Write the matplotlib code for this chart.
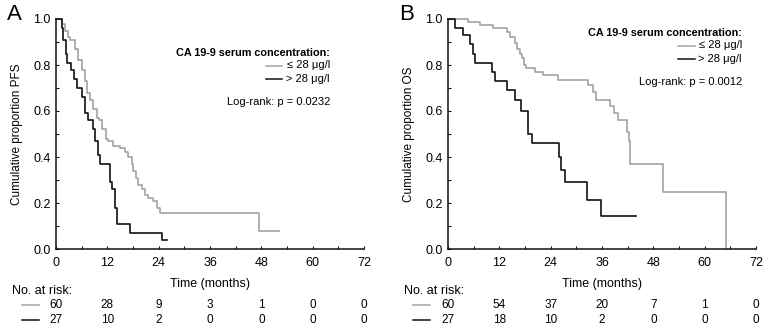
import matplotlib
matplotlib.use('Agg')
import matplotlib.pyplot as plt
import matplotlib.transforms as mtransforms
from matplotlib.ticker import MultipleLocator

plt.rcParams['font.family'] = ['Liberation Sans', 'DejaVu Sans']

W, H = 765, 332
GRAY = '#a3a3a3'
BLACK = '#111111'

# panel A (PFS)
pfs_low_t = [0, 1.5, 2.1, 2.9, 3.3, 4.4, 5.1, 6.0, 6.8, 7.3, 7.9, 8.6, 9.5, 10.1, 10.7, 11.8, 12.1,
             13.3, 15.0, 16.1, 16.9, 17.7, 18.0, 18.7, 19.2, 20.0, 20.8, 21.6, 22.7, 23.5, 24.3, 47.5]
pfs_low_s = [1.0, 0.98, 0.95, 0.92, 0.91, 0.87, 0.82, 0.78, 0.73, 0.68, 0.65, 0.61, 0.57, 0.56, 0.52, 0.48, 0.47,
             0.45, 0.44, 0.42, 0.40, 0.37, 0.34, 0.31, 0.28, 0.26, 0.235, 0.22, 0.21, 0.18, 0.157, 0.078]
pfs_low_end = 52.2
pfs_high_t = [0, 1.4, 1.7, 2.3, 2.6, 3.4, 4.2, 4.8, 6.0, 6.8, 7.5, 8.6, 9.1, 9.8, 10.4, 12.6, 13.2,
              13.8, 14.2, 17.3, 24.8]
pfs_high_s = [1.0, 0.96, 0.91, 0.85, 0.81, 0.78, 0.74, 0.70, 0.66, 0.59, 0.56, 0.52, 0.47, 0.41, 0.37, 0.29, 0.26,
              0.18, 0.11, 0.07, 0.037]
pfs_high_end = 25.9

# panel B (OS)
os_low_t = [0, 4.7, 7.5, 10.6, 13.7, 14.5, 15.7, 16.2, 16.8, 17.2, 17.8, 18.2, 20.3, 22.3, 25.8, 32.8, 34.0,
            34.7, 37.9, 38.8, 39.7, 41.8, 42.2, 42.5, 50.3, 65.1]
os_low_s = [1.0, 0.985, 0.974, 0.96, 0.945, 0.92, 0.894, 0.87, 0.85, 0.83, 0.80, 0.786, 0.77, 0.757, 0.735, 0.713, 0.684,
            0.65, 0.62, 0.59, 0.56, 0.51, 0.47, 0.37, 0.25, 0.0]
os_low_end = 65.1
os_high_t = [0, 1.6, 3.6, 5.1, 5.8, 6.2, 10.2, 10.9, 13.7, 15.7, 17.0, 18.8, 19.7, 26.0, 26.3, 27.3, 32.4, 35.7]
os_high_s = [1.0, 0.96, 0.93, 0.89, 0.85, 0.81, 0.77, 0.73, 0.69, 0.65, 0.60, 0.50, 0.46, 0.40, 0.345, 0.29, 0.215, 0.143]
os_high_end = 43.9

risk_times = [0, 12, 24, 36, 48, 60, 72]
pfs_risk_low = [60, 28, 9, 3, 1, 0, 0]
pfs_risk_high = [27, 10, 2, 0, 0, 0, 0]
os_risk_low = [60, 54, 37, 20, 7, 1, 0]
os_risk_high = [27, 18, 10, 2, 0, 0, 0]

legend_title = 'CA 19-9 serum concentration:'
legend_labels = ['\u2264 28 \u03bcg/l', '> 28 \u03bcg/l']


def fx(px):
    return px / W


def fy(py):
    return 1 - py / H


fig = plt.figure(figsize=(W / 100, H / 100), dpi=100)

panels = [
    dict(left=56, letter='A', ylabel='Cumulative proportion PFS', pval='Log-rank: p = 0.0232',
         curves=[(pfs_low_t, pfs_low_s, pfs_low_end, GRAY), (pfs_high_t, pfs_high_s, pfs_high_end, BLACK)],
         risk=[pfs_risk_low, pfs_risk_high], leg_y=53, leg_right=330, sample=(266, 282), risk_x=12, risk_sample=(22, 39)),
    dict(left=448, letter='B', ylabel='Cumulative proportion OS', pval='Log-rank: p = 0.0012',
         curves=[(os_low_t, os_low_s, os_low_end, GRAY), (os_high_t, os_high_s, os_high_end, BLACK)],
         risk=[os_risk_low, os_risk_high], leg_y=33, leg_right=742, sample=(678, 695), risk_x=404, risk_sample=(413, 430)),
]

for p in panels:
    ax = fig.add_axes([fx(p['left']), fy(249), 308 / W, 230 / H])
    for t, s, end, c in p['curves']:
        ax.step(list(t) + [end], list(s) + [s[-1]], where='post', color=c, lw=1.2, clip_on=False)
    ax.set_xlim(0, 72)
    ax.set_ylim(0, 1.0)
    for sp in ['top', 'right']:
        ax.spines[sp].set_visible(False)
    for sp in ['left', 'bottom']:
        ax.spines[sp].set_linewidth(1.1)
        ax.spines[sp].set_color(BLACK)
    ax.xaxis.set_major_locator(MultipleLocator(12))
    ax.xaxis.set_minor_locator(MultipleLocator(6))
    ax.yaxis.set_major_locator(MultipleLocator(0.2))
    ax.yaxis.set_minor_locator(MultipleLocator(0.1))
    ax.set_yticklabels(['%.1f' % v for v in ax.get_yticks()])
    ax.tick_params(which='both', direction='in', length=2.5, width=0.8, labelsize=9, color=BLACK)
    ax.tick_params(axis='x', pad=6)
    ax.tick_params(axis='y', pad=4)
    ax.set_xlabel('Time (months)', fontsize=9, labelpad=6)
    ax.set_ylabel(p['ylabel'], fontsize=8.5)
    ax.yaxis.set_label_coords(-33 / 308, 0.5)

    fig.text(fx(p['left'] - 49), fy(14), p['letter'], fontsize=16, va='center', ha='left')

    # legend
    fig.text(fx(p['leg_right']), fy(p['leg_y']), legend_title, fontsize=7.8, fontweight='bold',
             ha='right', va='center')
    for i, (lab, c) in enumerate(zip(legend_labels, [GRAY, BLACK])):
        yy = p['leg_y'] + 12.5 + i * 13
        fig.text(fx(p['leg_right']), fy(yy), lab, fontsize=8, ha='right', va='center')
        fig.add_artist(plt.Line2D([fx(p['sample'][0]), fx(p['sample'][1])], [fy(yy), fy(yy)],
                                  color=c, lw=1.1, transform=fig.transFigure))
    fig.text(fx(p['leg_right']), fy(p['leg_y'] + 49), p['pval'], fontsize=8, ha='right', va='center')

    # number at risk
    fig.text(fx(p['risk_x']), fy(291), 'No. at risk:', fontsize=9, ha='left', va='center')
    trans = mtransforms.blended_transform_factory(ax.transData, fig.transFigure)
    for row, c, yy in zip(p['risk'], [GRAY, BLACK], [305, 320]):
        fig.add_artist(plt.Line2D([fx(p['risk_sample'][0]), fx(p['risk_sample'][1])], [fy(yy), fy(yy)],
                                  color=c, lw=1.1, transform=fig.transFigure))
        for t, n in zip(risk_times, row):
            ax.text(t, fy(yy), str(n), transform=trans, fontsize=8.5, ha='center', va='center', clip_on=False)

fig.savefig('out.png', dpi=100)
